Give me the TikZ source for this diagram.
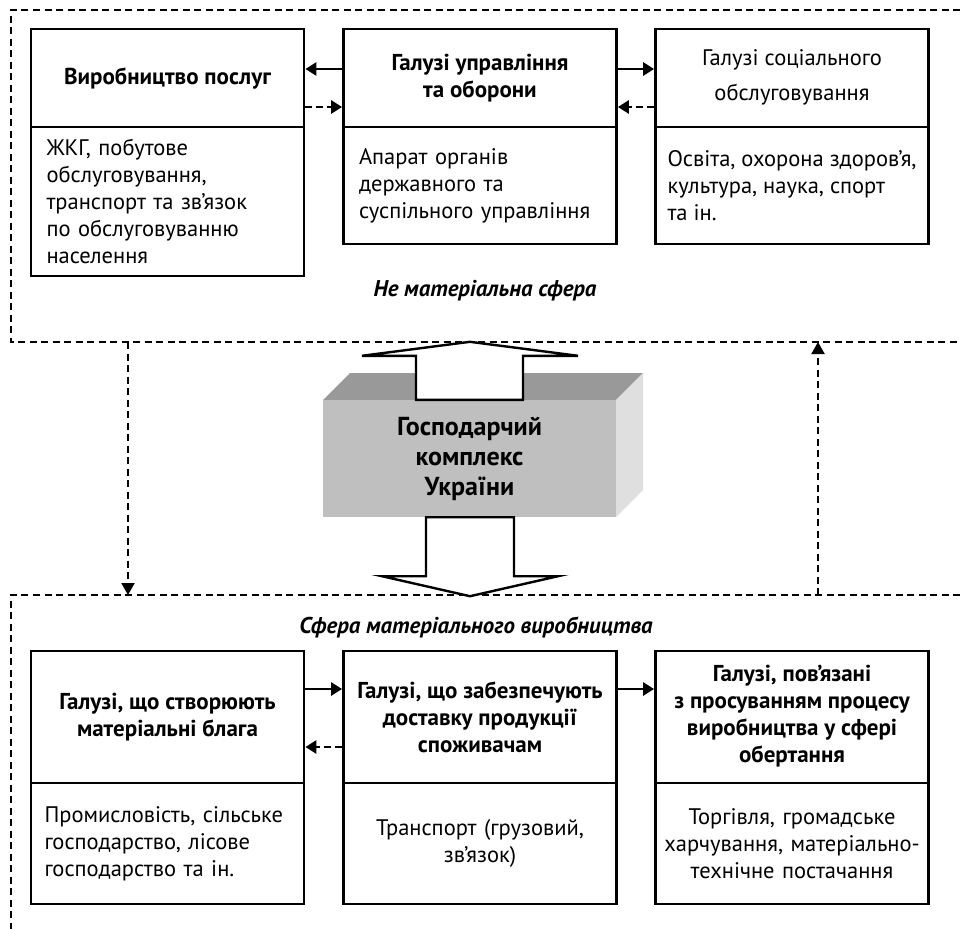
\documentclass[tikz,border=0pt]{standalone}
\usepackage{fontspec}
\setmainfont{PT Sans}
\usetikzlibrary{arrows.meta,calc}
\begin{document}
\begin{tikzpicture}[x=1pt,y=-1pt,
  frame/.style={line width=2pt, dash pattern=on 7pt off 4.5pt},
  ttl/.style={draw, line width=2.8pt, minimum width=273pt, inner sep=0pt, align=center, font=\bfseries\fontsize{23}{27}\selectfont},
  bodyl/.style={draw, line width=2.8pt, minimum width=273pt, inner sep=0pt, text width=242pt, align=left, font=\fontsize{22.5}{27}\selectfont},
  bodyc/.style={draw, line width=2.8pt, minimum width=273pt, inner sep=0pt, text width=265pt, align=center, font=\fontsize{22.5}{27}\selectfont},
  sarr/.style={line width=2.8pt, -{Triangle[length=11pt,width=13pt]}},
  darr/.style={line width=2.8pt, dash pattern=on 7pt off 4pt, -{Triangle[length=11pt,width=13pt]}},
  vdarr/.style={line width=2pt, dash pattern=on 7pt off 4.5pt, -{Triangle[length=12pt,width=13pt]}},
  bigarrow/.style={draw, line width=2.4pt, fill=white, line join=miter},
  sphere/.style={font=\bfseries\itshape\fontsize{22.8}{27}\selectfont}
]
\useasboundingbox (0,0) rectangle (960,929);

% frames
\draw[frame] (960,10) -- (11,10) -- (11,342) -- (960,342);
\draw[frame] (960,595) -- (11,595) -- (11,929);

% top boxes
\node[ttl, minimum height=98pt] (t1) at (167.5,78) {Виробництво послуг};
\node[bodyl, minimum height=149pt] (b1) at (167.5,201.5) {ЖКГ, побутове\\обслуговування,\\транспорт та зв’язок\\по обслуговуванню\\населення};
\node[ttl, minimum height=98pt] (t2) at (480,78) {Галузі управління\\та оборони};
\node[bodyl, minimum height=117pt] (b2) at (480,185.5) {Апарат органів\\державного та\\суспільного управління};
\node[ttl, minimum height=98pt, font=\mdseries\fontsize{22.5}{35}\selectfont, text depth=6pt] (t3) at (792,78) {Галузі соціального\\обслуговування};
\node[draw, line width=2.8pt, minimum width=273pt, minimum height=117pt, inner sep=0pt, align=left, font=\fontsize{22.5}{27}\selectfont] (b3) at (792,185.5) {Освіта, охорона здоров’я,\\культура, наука, спорт\\та ін.};

\draw[sarr] ([yshift=9pt]t2.west) -- ([yshift=9pt]t1.east);
\draw[darr] ([yshift=-29pt]t1.east) -- ([yshift=-29pt]t2.west);
\draw[sarr] ([yshift=9pt]t2.east) -- ([yshift=9pt]t3.west);
\draw[darr] ([yshift=-29pt]t3.west) -- ([yshift=-29pt]t2.east);

\node[sphere] (nm) at (485,291) {Не матеріальна сфера};

% 3D box
\fill[gray!80] (323,400) -- (350,373) -- (643,373) -- (616,400) -- cycle;
\fill[gray!25] (616,400) -- (643,373) -- (643,490) -- (616,517) -- cycle;
\node[fill=gray!50, minimum width=293pt, minimum height=117pt, inner sep=0pt, align=center,
      font=\bfseries\fontsize{26}{30}\selectfont] (gk) at (469.5,458.5) {Господарчий\\комплекс\\України};

\draw[bigarrow, shift={(gk.north)}] (-53.5,0) -- (-53.5,-44) -- (-107.5,-44) -- (0.5,-58) -- (108.5,-44) -- (53.5,-44) -- (53.5,0) -- cycle;
\draw[bigarrow, shift={(gk.south)}] (-43.5,0) -- (-43.5,59) -- (-87.5,59) -- (0.5,79) -- (88.5,59) -- (44.5,59) -- (44.5,0) -- cycle;

% vertical dashed arrows
\coordinate (lt) at (128,342);
\coordinate (lb) at (128,595);
\coordinate (rt) at (818,342);
\coordinate (rb) at (818,595);
\draw[vdarr] (lt) -- (lb);
\draw[vdarr] (rb) -- (rt);

% bottom section
\node[sphere] (mv) at (476,627) {Сфера матеріального виробництва};

\node[ttl, minimum height=132pt] (t4) at (167.5,717) {Галузі, що створюють\\матеріальні блага};
\node[bodyl, minimum height=121pt, text width=246pt] (b4) at (167.5,843.5) {Промисловість, сільське\\господарство, лісове\\господарство та ін.};
\node[ttl, minimum height=132pt] (t5) at (480,717) {Галузі, що забезпечують\\доставку продукції\\споживачам};
\node[bodyc, minimum height=121pt] (b5) at (480,843.5) {Транспорт (грузовий,\\зв’язок)};
\node[ttl, minimum height=132pt, text depth=6pt] (t6) at (792,717) {Галузі, пов’язані\\з просуванням процесу\\виробництва у сфері\\обертання};
\node[bodyc, minimum height=121pt] (b6) at (792,843.5) {Торгівля, громадське\\харчування, матеріально-\\технічне постачання};

\draw[sarr] ([yshift=28pt]t4.east) -- ([yshift=28pt]t5.west);
\draw[darr] ([yshift=-30pt]t5.west) -- ([yshift=-30pt]t4.east);
\draw[sarr] ([yshift=28pt]t5.east) -- ([yshift=28pt]t6.west);
\end{tikzpicture}
\end{document}
